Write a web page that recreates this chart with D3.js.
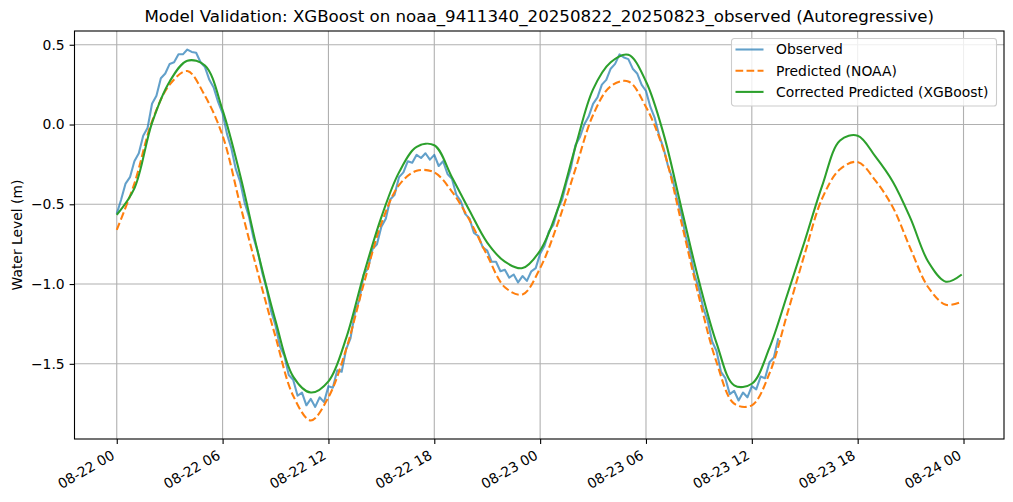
<!DOCTYPE html>
<html>
<head>
<meta charset="utf-8">
<script src="https://cdn.jsdelivr.net/npm/d3@7"></script>
<style>
  html, body { margin: 0; padding: 0; background: #fff; }
  svg { display: block; font-family: "DejaVu Sans", sans-serif; }
</style>
</head>
<body>
<div id="chart"></div>
<script>
// hours after 2025-08-22 00:00 for the two model series
const modelHours = [0, 1, 2, 3, 4, 5, 6, 7, 8, 9, 10, 11, 12, 13, 14, 15, 16, 17, 18, 19,
  20, 21, 22, 23, 24, 25, 26, 27, 28, 29, 30, 31, 32, 33, 34, 35, 36, 37, 38, 39,
  40, 41, 42, 43, 44, 45, 46, 47, 47.9];

const predictedNoaa = [-0.66, -0.37, 0.02, 0.25, 0.335, 0.18, -0.07, -0.505, -0.93, -1.33,
  -1.70, -1.855, -1.71, -1.41, -1.0, -0.62, -0.38, -0.29, -0.30, -0.42,
  -0.60, -0.82, -1.02, -1.065, -0.90, -0.62, -0.28, 0.06, 0.24, 0.27,
  0.11, -0.16, -0.61, -1.08, -1.49, -1.75, -1.76, -1.56, -1.19, -0.81,
  -0.46, -0.28, -0.235, -0.35, -0.52, -0.78, -1.02, -1.13, -1.11];

const correctedXgb = [-0.566, -0.40, 0.01, 0.27, 0.40, 0.37, 0.09, -0.32, -0.80, -1.23,
  -1.58, -1.68, -1.61, -1.34, -0.94, -0.58, -0.30, -0.14, -0.13, -0.33,
  -0.54, -0.74, -0.86, -0.90, -0.79, -0.53, -0.14, 0.22, 0.39, 0.437,
  0.27, -0.06, -0.52, -0.98, -1.37, -1.635, -1.625, -1.40, -1.07, -0.73,
  -0.38, -0.10, -0.07, -0.20, -0.36, -0.59, -0.86, -0.985, -0.94];

// observed water level, every 15 minutes from 08-22 00:00
const obsStepHours = 0.25;
const observed = [
  -0.56, -0.47, -0.37, -0.33, -0.23, -0.18, -0.07, -0.02, 0.13, 0.18,
  0.29, 0.32, 0.38, 0.39, 0.44, 0.44, 0.47, 0.455, 0.45, 0.39,
  0.36, 0.28, 0.23, 0.14, 0.07, -0.06, -0.15, -0.28, -0.36, -0.49,
  -0.58, -0.71, -0.80, -0.93, -1.03, -1.17, -1.26, -1.39, -1.45, -1.57,
  -1.60, -1.70, -1.68, -1.76, -1.72, -1.77, -1.71, -1.74, -1.64, -1.65,
  -1.54, -1.55, -1.41, -1.34, -1.18, -1.10, -0.94, -0.90, -0.78, -0.75,
  -0.64, -0.59, -0.47, -0.44, -0.33, -0.30, -0.23, -0.24, -0.19, -0.21,
  -0.18, -0.22, -0.19, -0.26, -0.23, -0.31, -0.34, -0.44, -0.48, -0.56,
  -0.59, -0.68, -0.70, -0.77, -0.79, -0.86, -0.86, -0.92, -0.91, -0.96,
  -0.94, -0.99, -0.95, -0.98, -0.92, -0.90, -0.81, -0.76, -0.67, -0.63,
  -0.53, -0.47, -0.36, -0.27, -0.13, -0.08, 0.00, 0.05, 0.13, 0.17,
  0.25, 0.28, 0.35, 0.38, 0.44, 0.42, 0.41, 0.35, 0.32, 0.25,
  0.21, 0.11, 0.04, -0.07, -0.15, -0.26, -0.34, -0.46, -0.56, -0.70,
  -0.80, -0.94, -1.03, -1.15, -1.23, -1.36, -1.42, -1.55, -1.59, -1.69,
  -1.67, -1.73, -1.68, -1.71, -1.64, -1.66, -1.58, -1.59, -1.49, -1.46,
  -1.34];

const yTickValues = [0.5, 0.0, -0.5, -1.0, -1.5];
const seriesNames = ["Observed", "Predicted (NOAA)", "Corrected Predicted (XGBoost)"];
const titleText = "Model Validation: XGBoost on noaa_9411340_20250822_20250823_observed (Autoregressive)";

const W = 1013, H = 502;
const margin = { top: 31, right: 9, bottom: 63, left: 74.5 },
      width  = W - margin.left - margin.right,
      height = H - margin.top - margin.bottom;

const t0 = Date.UTC(2025, 7, 22, 0, 0);
const toDate = h => new Date(t0 + h * 3600e3);

const obsData  = observed.map((v, i) => ({ t: toDate(i * obsStepHours), v }));
const predData = predictedNoaa.map((v, i) => ({ t: toDate(modelHours[i]), v }));
const corrData = correctedXgb.map((v, i) => ({ t: toDate(modelHours[i]), v }));

// matplotlib style 5% margins
const allT = [0, d3.max(modelHours)];
const allV = observed.concat(predictedNoaa, correctedXgb);
const [vMin, vMax] = d3.extent(allV);
const padT = (allT[1] - allT[0]) * 0.05, padV = (vMax - vMin) * 0.05;

const x = d3.scaleUtc().domain([toDate(allT[0] - padT), toDate(allT[1] + padT)]).range([0, width]);
const y = d3.scaleLinear().domain([vMin - padV, vMax + padV]).range([height, 0]);

const svg = d3.select("#chart").append("svg")
  .attr("width", W).attr("height", H);

const g = svg.append("g").attr("transform", `translate(${margin.left},${margin.top})`);

const gridColor = "#b0b0b0";
const xTicks = d3.utcHour.every(6).range(toDate(0), toDate(48.01));
const fmt = d3.utcFormat("%m-%d %H");
const minus = d => d3.format(".1f")(d).replace("-", "\u2212");

// grid
g.append("g").selectAll("line").data(xTicks).enter().append("line")
  .attr("x1", d => x(d)).attr("x2", d => x(d))
  .attr("y1", 0).attr("y2", height)
  .attr("stroke", gridColor).attr("stroke-width", 1.1);
g.append("g").selectAll("line").data(yTickValues).enter().append("line")
  .attr("x1", 0).attr("x2", width)
  .attr("y1", d => y(d)).attr("y2", d => y(d))
  .attr("stroke", gridColor).attr("stroke-width", 1.1);

// lines
const line = d3.line().x(d => x(d.t)).y(d => y(d.v));
const smooth = d3.line().x(d => x(d.t)).y(d => y(d.v)).curve(d3.curveCatmullRom.alpha(0.5));

g.append("path").datum(obsData)
  .attr("d", line).attr("fill", "none")
  .attr("stroke", "#1f77b4").attr("stroke-opacity", 0.7)
  .attr("stroke-width", 2.08).attr("stroke-linejoin", "round");
g.append("path").datum(predData)
  .attr("d", smooth).attr("fill", "none")
  .attr("stroke", "#ff7f0e").attr("stroke-width", 2.08)
  .attr("stroke-dasharray", "7.7,3.33");
g.append("path").datum(corrData)
  .attr("d", smooth).attr("fill", "none")
  .attr("stroke", "#2ca02c").attr("stroke-width", 2.08);

// spines
g.append("rect").attr("width", width).attr("height", height)
  .attr("fill", "none").attr("stroke", "#000").attr("stroke-width", 1.1);

// y axis
const yAxis = g.append("g")
  .call(d3.axisLeft(y).tickValues(yTickValues).tickSize(4.9).tickPadding(4.9).tickFormat(minus));
yAxis.select(".domain").remove();
yAxis.selectAll("line").attr("stroke-width", 1.1);
yAxis.selectAll("text").attr("font-size", "13.9px").attr("font-family", "DejaVu Sans").attr("fill", "#000");

// x axis
const xAxis = g.append("g").attr("transform", `translate(0,${height})`)
  .call(d3.axisBottom(x).tickValues(xTicks).tickSize(4.9).tickFormat(fmt));
xAxis.select(".domain").remove();
xAxis.selectAll("line").attr("stroke-width", 1.1);
xAxis.selectAll("text")
  .attr("font-size", "13.9px").attr("font-family", "DejaVu Sans").attr("fill", "#000")
  .attr("text-anchor", "end").attr("dy", null).attr("y", null)
  .attr("transform", "translate(-1.7,19) rotate(-30)");

// y label
svg.append("text")
  .attr("transform", `translate(21.5,${margin.top + height / 2}) rotate(-90)`)
  .attr("text-anchor", "middle")
  .style("font-size", "13.9px")
  .text("Water Level (m)");

// title
svg.append("text")
  .attr("x", margin.left + width / 2).attr("y", 22)
  .attr("text-anchor", "middle")
  .style("font-size", "16.67px")
  .text(titleText);

// legend
const lg = svg.append("g").attr("transform", "translate(731.5,38.5)");
lg.append("rect").attr("width", 265).attr("height", 67.5).attr("rx", 2.8)
  .attr("fill", "#fff").attr("fill-opacity", 0.8)
  .attr("stroke", "#cccccc").attr("stroke-width", 1.1);
const legendStyles = [
  { c: "#1f77b4", o: 0.7, dash: null },
  { c: "#ff7f0e", o: 1, dash: "7.7,3.33" },
  { c: "#2ca02c", o: 1, dash: null }
];
const rows = lg.selectAll(".row").data(seriesNames).enter().append("g")
  .attr("transform", (d, i) => `translate(0,${11 + i * 21.2})`);
rows.append("line").attr("x1", 4).attr("x2", 32)
  .attr("stroke", (d, i) => legendStyles[i].c)
  .attr("stroke-opacity", (d, i) => legendStyles[i].o)
  .attr("stroke-dasharray", (d, i) => legendStyles[i].dash)
  .attr("stroke-width", 2.08);
rows.append("text").attr("x", 44.5).attr("dy", "0.35em")
  .style("font-size", "13.9px")
  .text(d => d);
</script>
</body>
</html>
